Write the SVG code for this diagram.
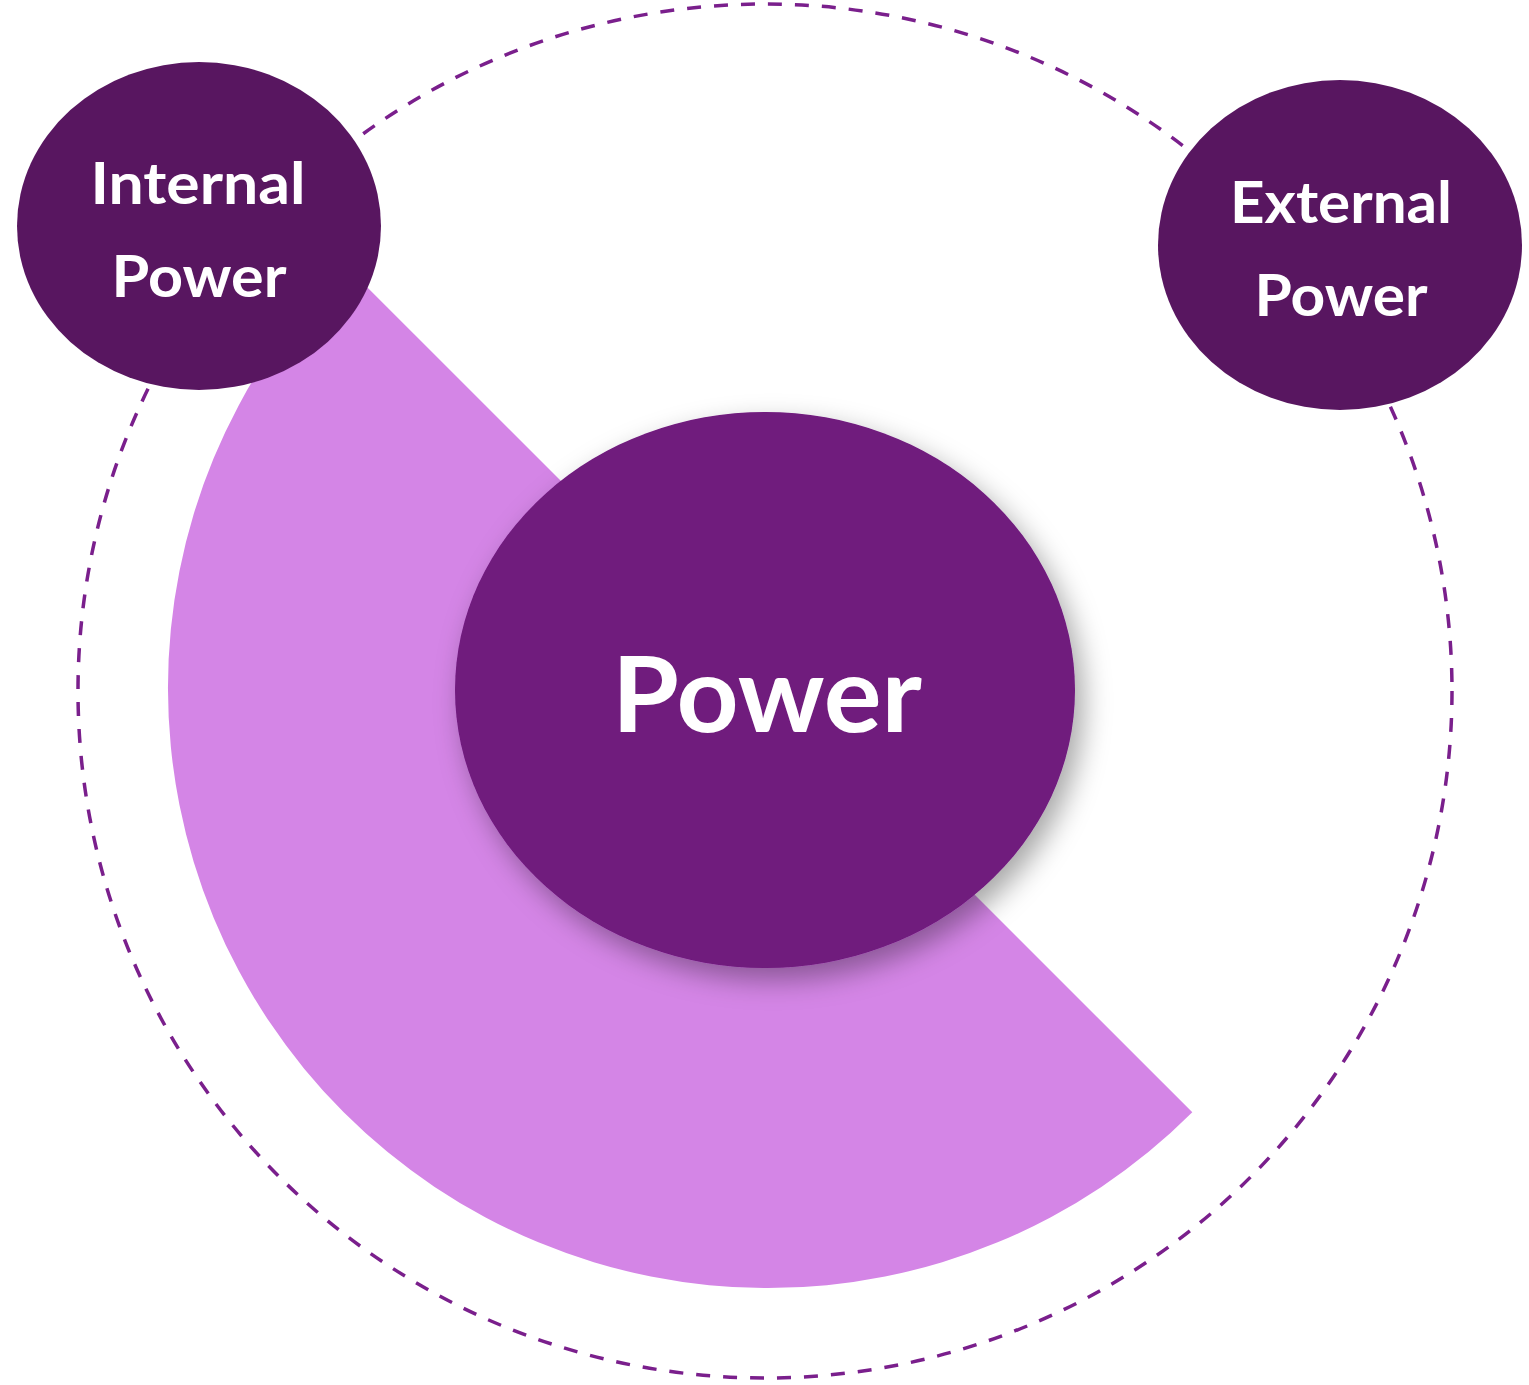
<svg xmlns="http://www.w3.org/2000/svg" width="1529" height="1385" viewBox="0 0 1529 1385">
<style>
.lbl{font-family:Lato,"Open Sans","Liberation Sans",sans-serif;font-weight:bold;fill:#ffffff;text-anchor:middle}
.small{font-size:58px}
.big{font-size:106px}
.sat{fill:#581660}
</style>
<defs>
<filter id="sh" x="-20%" y="-20%" width="150%" height="150%">
<feDropShadow dx="8" dy="12" stdDeviation="14" flood-color="#000" flood-opacity="0.35"/>
</filter>
</defs>
<rect width="1529" height="1385" fill="#ffffff"/>
<g id="connectors">
<circle cx="765" cy="691" r="687" fill="none" stroke="#7a1f8c" stroke-width="3.5" stroke-dasharray="14 13"/>
</g>
<g id="sector">
<path d="M768 688 L343.7 263.7 A600 600 0 0 0 1192.3 1112.3 Z" fill="#d485e6"/>
</g>
<g id="power">
<ellipse cx="765" cy="690" rx="310" ry="278" fill="#6f1a7d" filter="url(#sh)"/>
<text class="lbl big" x="767" y="732" textLength="310" lengthAdjust="spacingAndGlyphs">Power</text>
</g>
<g id="internal">
<ellipse class="sat" cx="199" cy="226" rx="182" ry="164"/>
<text class="lbl small" x="198" y="204" textLength="215" lengthAdjust="spacingAndGlyphs">Internal</text>
<text class="lbl small" x="199" y="297" textLength="175" lengthAdjust="spacingAndGlyphs">Power</text>
</g>
<g id="external">
<ellipse class="sat" cx="1340" cy="245" rx="182" ry="165"/>
<text class="lbl small" x="1341" y="223" textLength="222" lengthAdjust="spacingAndGlyphs">External</text>
<text class="lbl small" x="1341" y="316" textLength="173" lengthAdjust="spacingAndGlyphs">Power</text>
</g>
</svg>
